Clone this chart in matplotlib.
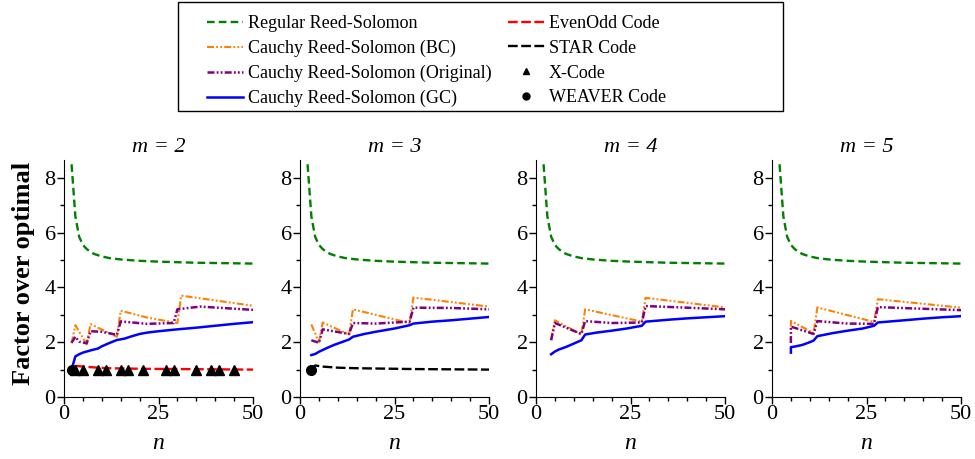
import matplotlib
matplotlib.use("Agg")
import matplotlib.pyplot as plt
from matplotlib.lines import Line2D
from matplotlib.patches import Rectangle

plt.rcParams['font.family'] = ['Liberation Serif', 'DejaVu Serif']
plt.rcParams['lines.scale_dashes'] = False

# Regular Reed-Solomon (same in every panel)
rs_n = [1, 2, 3, 4, 5, 6, 7, 8, 10, 12, 15, 20, 25, 30, 35, 40, 45, 50]
rs_v = [16.0, 8.5, 6.6, 5.85, 5.55, 5.4, 5.3, 5.22, 5.13, 5.07, 5.02, 4.97, 4.94, 4.92, 4.9, 4.89, 4.88, 4.87]

# m = 2
bc2_n = [2, 3, 6, 7, 14, 15, 22, 30, 31, 50]
bc2_v = [1.96, 2.62, 1.93, 2.66, 2.2, 3.15, 2.9, 2.7, 3.7, 3.33]
org2_n = [2, 3, 4, 6, 7, 10, 14, 15, 22, 29, 30, 36, 50]
org2_v = [1.98, 2.2, 2.02, 1.96, 2.4, 2.38, 2.27, 2.76, 2.67, 2.7, 3.2, 3.3, 3.18]
gc2_n = [2, 3, 4, 5, 7, 9, 10, 12, 14, 16, 18, 20, 22, 25, 30, 35, 40, 45, 50]
gc2_v = [1.0, 1.48, 1.56, 1.62, 1.7, 1.77, 1.85, 1.97, 2.08, 2.13, 2.22, 2.3, 2.35, 2.4, 2.47, 2.53, 2.6, 2.67, 2.73]
evenodd_n = [3, 5, 8, 12, 20, 30, 40, 50]
evenodd_v = [1.14, 1.11, 1.08, 1.05, 1.03, 1.02, 1.01, 1.0]
xcode_n = [3, 5, 9, 11, 15, 17, 21, 27, 29, 35, 39, 41, 45]
xcode_v = [1.0] * 13
weaver2_n = [2]
weaver2_v = [1.0]

# m = 3
bc3_n = [3, 5, 6, 13, 14, 29, 30, 50]
bc3_v = [2.65, 2.0, 2.72, 2.28, 3.2, 2.7, 3.63, 3.3]
org3_n = [3, 5, 6, 13, 14, 20, 29, 30, 40, 50]
org3_v = [2.07, 1.98, 2.47, 2.3, 2.7, 2.68, 2.75, 3.26, 3.25, 3.2]
gc3_n = [3, 4, 5, 7, 9, 11, 13, 14, 17, 20, 25, 29, 30, 35, 40, 45, 50]
gc3_v = [1.53, 1.57, 1.65, 1.78, 1.9, 2.0, 2.1, 2.2, 2.3, 2.38, 2.5, 2.62, 2.68, 2.75, 2.8, 2.86, 2.92]
star_n = [3, 4, 6, 10, 15, 20, 30, 40, 50]
star_v = [1.0, 1.15, 1.11, 1.07, 1.05, 1.04, 1.02, 1.01, 1.0]
weaver3_n = [3]
weaver3_v = [1.0]

# m = 4
bc4_n = [4, 5, 12, 13, 28, 29, 50]
bc4_v = [2.1, 2.8, 2.28, 3.2, 2.75, 3.62, 3.27]
org4_n = [4, 5, 12, 13, 20, 28, 29, 40, 50]
org4_v = [2.07, 2.7, 2.3, 2.77, 2.7, 2.72, 3.32, 3.26, 3.2]
gc4_n = [4, 5, 6, 8, 10, 12, 13, 16, 20, 24, 28, 29, 35, 40, 45, 50]
gc4_v = [1.56, 1.66, 1.73, 1.83, 1.95, 2.07, 2.28, 2.35, 2.42, 2.5, 2.6, 2.75, 2.82, 2.87, 2.91, 2.95]

# m = 5
bc5_n = [5, 5, 11, 12, 27, 28, 50]
bc5_v = [2.57, 2.78, 2.33, 3.27, 2.74, 3.57, 3.26]
org5_n = [5, 5, 11, 12, 20, 27, 28, 40, 50]
org5_v = [1.97, 2.57, 2.3, 2.77, 2.68, 2.67, 3.28, 3.22, 3.17]
gc5_n = [5, 5, 6, 8, 10, 11, 12, 16, 20, 24, 27, 28, 35, 40, 45, 50]
gc5_v = [1.62, 1.82, 1.84, 1.9, 2.0, 2.06, 2.22, 2.33, 2.42, 2.5, 2.6, 2.72, 2.8, 2.86, 2.91, 2.95]

m_values = [2, 3, 4, 5]

sty = {
    'rs': dict(color='#008000', lw=1.7, ls=(0, (5.5, 3))),
    'bc': dict(color='#ff8000', lw=1.5, ls=(0, (5, 1.6, 1.3, 1.6, 1.3, 1.6))),
    'org': dict(color='#800080', lw=1.8, ls=(0, (5, 1.6, 1.3, 1.6, 1.3, 1.6))),
    'gc': dict(color='#0000ff', lw=1.8, ls='-'),
    'eo': dict(color='#ff0000', lw=1.7, ls=(0, (7, 2.5))),
    'star': dict(color='black', lw=1.7, ls=(0, (7, 2.5))),
}

fig = plt.figure(figsize=(9.75, 4.59), dpi=100)
W, H = 975.0, 459.0
lefts = [64, 300, 536, 772]

panels = [
    (bc2_n, bc2_v, org2_n, org2_v, gc2_n, gc2_v),
    (bc3_n, bc3_v, org3_n, org3_v, gc3_n, gc3_v),
    (bc4_n, bc4_v, org4_n, org4_v, gc4_n, gc4_v),
    (bc5_n, bc5_v, org5_n, org5_v, gc5_n, gc5_v),
]

for i, (m, left) in enumerate(zip(m_values, lefts)):
    ax = fig.add_axes([left / W, (H - 397) / H, 189 / W, 237 / H])
    bn, bv, on, ov, gn, gv = panels[i]
    ax.plot(rs_n, rs_v, **sty['rs'])
    ax.plot(bn, bv, **sty['bc'])
    ax.plot(on, ov, **sty['org'])
    ax.plot(gn, gv, **sty['gc'])
    if m == 2:
        ax.plot(evenodd_n, evenodd_v, **sty['eo'])
        ax.plot(xcode_n, xcode_v, '^', color='black', ms=7, ls='none')
        ax.plot(weaver2_n, weaver2_v, 'o', color='black', ms=7, ls='none')
    if m == 3:
        ax.plot(star_n, star_v, **sty['star'])
        ax.plot(weaver3_n, weaver3_v, 'o', color='black', ms=7, ls='none')
    ax.set_xlim(0, 50)
    ax.set_ylim(0, 8.65)
    ax.set_xticks([0, 25, 50])
    ax.set_xticks(range(5, 50, 5), minor=True)
    ax.set_yticks([0, 2, 4, 6, 8])
    ax.set_yticks([1, 3, 5, 7], minor=True)
    ax.spines['top'].set_visible(False)
    ax.spines['right'].set_visible(False)
    ax.tick_params(which='major', length=5, width=1, labelsize=16, pad=1)
    ax.tick_params(which='minor', length=3, width=1)
    ax.set_title('m = %d' % m, fontsize=16, style='italic', pad=6)
    ax.set_xlabel('n', fontsize=17, style='italic', labelpad=6)

fig.text(24 / W, (H - 273) / H, 'Factor over optimal', rotation=90,
         fontsize=19, fontweight='bold', ha='center', va='center')

handles = [
    Line2D([], [], **sty['rs']),
    Line2D([], [], **sty['bc']),
    Line2D([], [], **sty['org']),
    Line2D([], [], **sty['gc']),
    Line2D([], [], **sty['eo']),
    Line2D([], [], **sty['star']),
    Line2D([], [], marker='^', color='black', ls='none', ms=5),
    Line2D([], [], marker='o', color='black', ls='none', ms=5),
]
labels = ['Regular Reed-Solomon', 'Cauchy Reed-Solomon (BC)',
          'Cauchy Reed-Solomon (Original)', 'Cauchy Reed-Solomon (GC)',
          'EvenOdd Code', 'STAR Code', 'X-Code', 'WEAVER Code']
fig.legend(handles, labels, ncol=2, loc='upper left',
           bbox_to_anchor=(198 / W, (H - 6) / H), frameon=False,
           fontsize=13, handlelength=2.0, handletextpad=0.25,
           columnspacing=0.95, labelspacing=0.43, borderpad=0)
fig.patches.append(Rectangle((178 / W, (H - 111) / H), 605 / W, 109 / H,
                             transform=fig.transFigure, fill=False,
                             edgecolor='black', lw=1))

fig.savefig('out.png', dpi=100)
